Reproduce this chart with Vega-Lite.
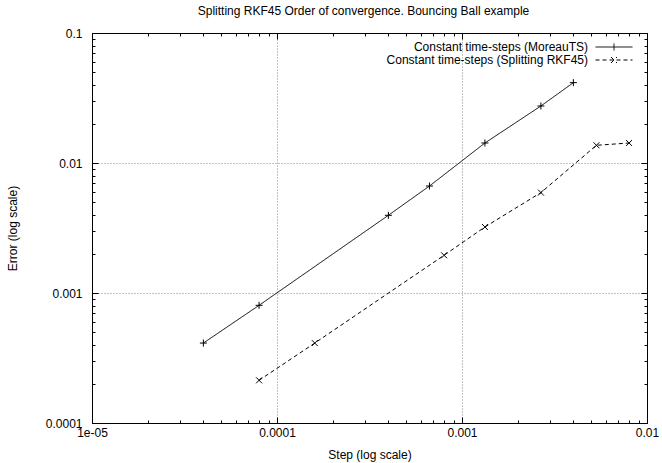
{
  "$schema": "https://vega.github.io/schema/vega-lite/v6.json",
  "width": 555,
  "height": 390,
  "autosize": "none",
  "padding": {"left": 92, "top": 33, "right": 15, "bottom": 40},
  "background": "white",
  "title": {"text": "Splitting RKF45 Order of convergence. Bouncing Ball example", "anchor": "middle", "frame": "group", "font": "Liberation Sans", "fontSize": 12, "fontWeight": "normal", "color": "black", "baseline": "alphabetic", "offset": 0, "dx": -6},
  "datasets": {
    "pts": [
      {"series": "Constant time-steps (MoreauTS)", "step": 0.00004, "error": 0.000412},
      {"series": "Constant time-steps (MoreauTS)", "step": 0.00008, "error": 0.000804},
      {"series": "Constant time-steps (MoreauTS)", "step": 0.0004, "error": 0.00396},
      {"series": "Constant time-steps (MoreauTS)", "step": 0.000667, "error": 0.00665},
      {"series": "Constant time-steps (MoreauTS)", "step": 0.00133, "error": 0.01425},
      {"series": "Constant time-steps (MoreauTS)", "step": 0.00267, "error": 0.02745},
      {"series": "Constant time-steps (MoreauTS)", "step": 0.004, "error": 0.0415},
      {"series": "Constant time-steps (Splitting RKF45)", "step": 0.00008, "error": 0.000213},
      {"series": "Constant time-steps (Splitting RKF45)", "step": 0.00016, "error": 0.000412},
      {"series": "Constant time-steps (Splitting RKF45)", "step": 0.0008, "error": 0.00195},
      {"series": "Constant time-steps (Splitting RKF45)", "step": 0.00133, "error": 0.00322},
      {"series": "Constant time-steps (Splitting RKF45)", "step": 0.00267, "error": 0.00592},
      {"series": "Constant time-steps (Splitting RKF45)", "step": 0.00533, "error": 0.01368},
      {"series": "Constant time-steps (Splitting RKF45)", "step": 0.008, "error": 0.01425}
    ]
  },
  "data": {"name": "pts"},
  "resolve": {"axis": {"x": "independent", "y": "independent"}},
  "layer": [
    {
      "mark": {"type": "line", "color": "black", "strokeWidth": 1},
      "encoding": {
        "x": {"field": "step", "type": "quantitative", "scale": {"type": "log", "domain": [0.00001, 0.01], "nice": false},
          "axis": {"orient": "bottom", "values": [0.00001, 0.0001, 0.001, 0.01], "grid": true, "tickSize": -6, "labelPadding": 10, "labelFlush": false, "labelOverlap": false,
            "labelExpr": "datum.value < 0.00005 ? '1e-05' : datum.value < 0.0005 ? '0.0001' : datum.value < 0.005 ? '0.001' : '0.01'",
            "title": "Step (log scale)", "titlePadding": 11}},
        "y": {"field": "error", "type": "quantitative", "scale": {"type": "log", "domain": [0.0001, 0.1], "nice": false},
          "axis": {"orient": "left", "values": [0.0001, 0.001, 0.01, 0.1], "grid": true, "tickSize": -6, "labelPadding": 16, "labelFlush": false, "labelOverlap": false,
            "labelExpr": "datum.value < 0.0005 ? '0.0001' : datum.value < 0.005 ? '0.001' : datum.value < 0.05 ? '0.01' : '0.1'",
            "title": "Error (log scale)", "titlePadding": 26}},
        "strokeDash": {"field": "series", "type": "nominal",
          "scale": {"domain": ["Constant time-steps (MoreauTS)", "Constant time-steps (Splitting RKF45)"], "range": [[1, 0], [4, 3]]},
          "legend": {"orient": "none", "legendX": 516, "legendY": 8, "title": null, "symbolSize": 100, "labelAlign": "right", "labelOffset": -32, "labelLimit": 400,
            "labelFont": "Liberation Sans", "labelFontSize": 12, "labelColor": "black", "rowPadding": 1, "padding": 0,
            "symbolStrokeColor": "black", "symbolStrokeWidth": 1, "symbolFillColor": "transparent",
            "encode": {"symbols": {"update": {
              "shape": {"signal": "datum.value == 'Constant time-steps (MoreauTS)' ? 'M-3.7,0L3.7,0M0,-0.7L0,0.7' : 'M-3.7,0L-2.9,0M-2.3,0L-1.5,0M-0.9,0L-0.1,0M0.5,0L1.3,0M1.9,0L2.7,0M3.3,0L3.7,0M-0.6,-0.6L0.6,0.6M-0.6,0.6L0.6,-0.6'"},
              "strokeDash": {"value": []},
              "stroke": {"value": "black"},
              "fill": {"value": "transparent"}}}}}}
      }
    },
    {
      "transform": [{"filter": "datum.series == 'Constant time-steps (MoreauTS)'"}],
      "mark": {"type": "point", "filled": false, "stroke": "black", "strokeWidth": 1, "size": 49, "opacity": 1, "shape": "M-1,0L1,0M0,-1L0,1"},
      "encoding": {
        "x": {"field": "step", "type": "quantitative", "scale": {"type": "log", "domain": [0.00001, 0.01], "nice": false}, "axis": null},
        "y": {"field": "error", "type": "quantitative", "scale": {"type": "log", "domain": [0.0001, 0.1], "nice": false}, "axis": null}
      }
    },
    {
      "transform": [{"filter": "datum.series == 'Constant time-steps (Splitting RKF45)'"}],
      "mark": {"type": "point", "filled": false, "stroke": "black", "strokeWidth": 1, "size": 49, "opacity": 1, "shape": "M-0.85,-0.85L0.85,0.85M-0.85,0.85L0.85,-0.85"},
      "encoding": {
        "x": {"field": "step", "type": "quantitative", "scale": {"type": "log", "domain": [0.00001, 0.01], "nice": false}, "axis": null},
        "y": {"field": "error", "type": "quantitative", "scale": {"type": "log", "domain": [0.0001, 0.1], "nice": false}, "axis": null}
      }
    },
    {
      "mark": {"type": "point", "opacity": 0},
      "encoding": {
        "x": {"field": "step", "type": "quantitative", "scale": {"type": "log", "domain": [0.00001, 0.01], "nice": false},
          "axis": {"orient": "top", "values": [0.00001, 0.0001, 0.001, 0.01], "grid": false, "labels": false, "tickSize": -6, "title": null}},
        "y": {"field": "error", "type": "quantitative", "scale": {"type": "log", "domain": [0.0001, 0.1], "nice": false},
          "axis": {"orient": "right", "values": [0.0001, 0.001, 0.01, 0.1], "grid": false, "labels": false, "tickSize": -6, "title": null}}
      }
    },
    {
      "mark": {"type": "point", "opacity": 0},
      "encoding": {
        "x": {"field": "step", "type": "quantitative", "scale": {"type": "log", "domain": [0.00001, 0.01], "nice": false},
          "axis": {"orient": "bottom", "values": [0.00002, 0.00003, 0.00004, 0.00005, 0.00006, 0.00007, 0.00008, 0.00009, 0.0002, 0.0003, 0.0004, 0.0005, 0.0006, 0.0007, 0.0008, 0.0009, 0.002, 0.003, 0.004, 0.005, 0.006, 0.007, 0.008, 0.009], "grid": false, "labels": false, "domain": false, "tickSize": -3, "title": null}},
        "y": {"field": "error", "type": "quantitative", "scale": {"type": "log", "domain": [0.0001, 0.1], "nice": false},
          "axis": {"orient": "left", "values": [0.0002, 0.0003, 0.0004, 0.0005, 0.0006, 0.0007, 0.0008, 0.0009, 0.002, 0.003, 0.004, 0.005, 0.006, 0.007, 0.008, 0.009, 0.02, 0.03, 0.04, 0.05, 0.06, 0.07, 0.08, 0.09], "grid": false, "labels": false, "domain": false, "tickSize": -3, "title": null}}
      }
    },
    {
      "mark": {"type": "point", "opacity": 0},
      "encoding": {
        "x": {"field": "step", "type": "quantitative", "scale": {"type": "log", "domain": [0.00001, 0.01], "nice": false},
          "axis": {"orient": "top", "values": [0.00002, 0.00003, 0.00004, 0.00005, 0.00006, 0.00007, 0.00008, 0.00009, 0.0002, 0.0003, 0.0004, 0.0005, 0.0006, 0.0007, 0.0008, 0.0009, 0.002, 0.003, 0.004, 0.005, 0.006, 0.007, 0.008, 0.009], "grid": false, "labels": false, "domain": false, "tickSize": -3, "title": null}},
        "y": {"field": "error", "type": "quantitative", "scale": {"type": "log", "domain": [0.0001, 0.1], "nice": false},
          "axis": {"orient": "right", "values": [0.0002, 0.0003, 0.0004, 0.0005, 0.0006, 0.0007, 0.0008, 0.0009, 0.002, 0.003, 0.004, 0.005, 0.006, 0.007, 0.008, 0.009, 0.02, 0.03, 0.04, 0.05, 0.06, 0.07, 0.08, 0.09], "grid": false, "labels": false, "domain": false, "tickSize": -3, "title": null}}
      }
    }
  ],
  "config": {
    "view": {"stroke": "black", "strokeWidth": 1},
    "font": "Liberation Sans",
    "axis": {"labelFont": "Liberation Sans", "labelFontSize": 12, "titleFont": "Liberation Sans", "titleFontSize": 12, "titleFontWeight": "normal",
      "labelColor": "black", "titleColor": "black", "domainColor": "black", "domainWidth": 1, "tickColor": "black", "tickWidth": 1,
      "gridColor": "#888888", "gridDash": [1, 2], "gridWidth": 1}
  }
}
